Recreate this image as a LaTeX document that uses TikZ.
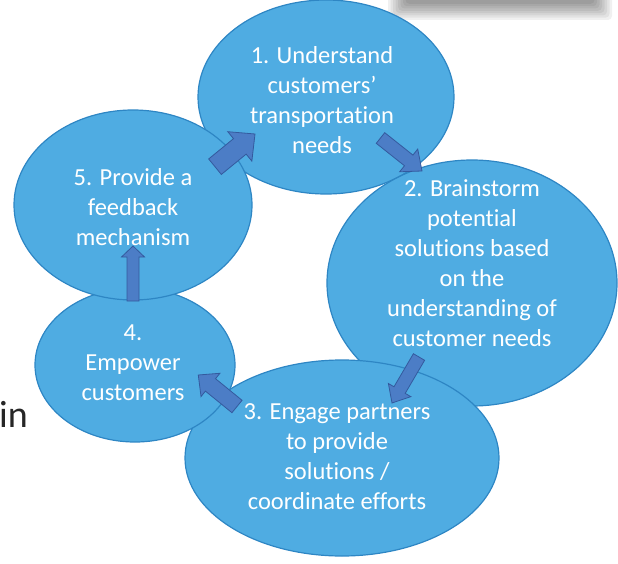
\documentclass[tikz,border=0pt]{standalone}
\usepackage{fontspec}
\setmainfont{Carlito}[Ligatures=NoCommon]
\usetikzlibrary{shapes.geometric,calc}
\definecolor{ellfill}{RGB}{79,172,226}
\definecolor{ellline}{RGB}{46,134,196}
\definecolor{arrfill}{RGB}{76,125,198}
\definecolor{arrline}{RGB}{52,90,158}
\definecolor{intext}{RGB}{38,38,38}
\tikzset{
 ell/.style={ellipse, draw=ellline, fill=ellfill, line width=1.2pt, inner sep=0pt},
 lbl/.style={text=white, align=center, font=\fontsize{24.5}{30}\selectfont, inner sep=0pt},
 blk/.style={fill=arrfill, draw=arrline, line width=0.8pt, line join=miter},
}
% tail, tip, shaft half width, head half width, head length
\newcommand\blockarr[5]{%
 \coordinate (ba-b) at ($(#2)!#5!(#1)$);
 \filldraw[blk] ($(#1)!#3!90:(#2)$) -- ($(ba-b)!#3!90:(#2)$) -- ($(ba-b)!#4!90:(#2)$) -- (#2)
   -- ($(ba-b)!#4!-90:(#2)$) -- ($(ba-b)!#3!-90:(#2)$) -- ($(#1)!#3!-90:(#2)$) -- cycle;}
\begin{document}
\begin{tikzpicture}[x=1pt,y=-1pt]
\useasboundingbox (0,0) rectangle (618,564);
% shadow at top right
\foreach \i in {0,...,7}
  \fill[black, opacity=0.06, rounded corners=4pt] (388+\i*2.5, -6) rectangle (612-\i*2.5, 20-\i*2.3);
% text at left
\node[anchor=base west, inner sep=0pt, text=intext, font=\fontsize{38}{44}\selectfont] (in) at (-1,427) {in};
% ellipses
\node[ell, minimum width=256pt, minimum height=194pt] (e1) at (326,97) {};
\node[ell, minimum width=290pt, minimum height=246pt] (e2) at (472,283) {};
\node[ell, minimum width=314pt, minimum height=196pt] (e3) at (342,458) {};
\node[ell, minimum width=200pt, minimum height=154pt] (e4) at (135,365) {};
\node[ell, minimum width=238pt, minimum height=190pt] (e5) at (133,205) {};
% labels
\node[lbl] (t1) at (322,100) {1. Understand\\customers’\\transportation\\needs};
\node[lbl] (t2) at (472,263.5) {2. Brainstorm\\potential\\solutions based\\on the\\understanding of\\customer needs};
\node[lbl] (t3) at (337,456.5) {3. Engage partners\\to provide\\solutions /\\coordinate efforts};
\node[lbl] (t4) at (133,363) {4.\\Empower\\customers};
\node[lbl] (t5) at (133,207) {5. Provide a\\feedback\\mechanism};
% block arrows
\coordinate (a1s) at (215,166.7); \coordinate (a1e) at (255,134);
\coordinate (a2s) at (380.5,138); \coordinate (a2e) at (422,171);
\coordinate (a3s) at (419,357);   \coordinate (a3e) at (392,403);
\coordinate (a4s) at (237,406.5); \coordinate (a4e) at (198.3,375);
\coordinate (a5s) at (133,301);   \coordinate (a5e) at (133,246);
\blockarr{a1s}{a1e}{10pt}{19pt}{19.6pt}
\blockarr{a2s}{a2e}{6.8pt}{14.5pt}{17pt}
\blockarr{a3s}{a3e}{6.5pt}{13pt}{15pt}
\blockarr{a4s}{a4e}{8pt}{15pt}{15.7pt}
\blockarr{a5s}{a5e}{6pt}{11.5pt}{11pt}
\end{tikzpicture}
\end{document}
